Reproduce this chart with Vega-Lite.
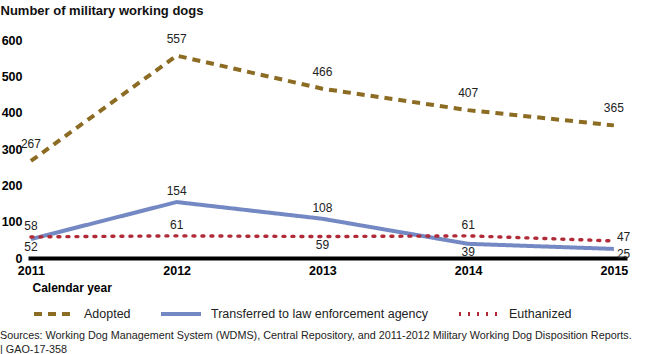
{
  "$schema": "https://vega.github.io/schema/vega-lite/v6.json",
  "width": 599,
  "height": 218,
  "autosize": {"type": "none"},
  "padding": {"left": 28, "top": 40, "right": 23, "bottom": 96},
  "config": {
    "font": "Liberation Sans",
    "view": {"stroke": null},
    "axis": {"grid": false, "ticks": false}
  },
  "title": {
    "text": ["Sources: Working Dog Management System (WDMS), Central Repository, and 2011-2012 Military Working Dog Disposition Reports.", "|  GAO-17-358"],
    "orient": "bottom",
    "anchor": "start",
    "frame": "group",
    "dx": -28,
    "offset": 8,
    "fontSize": 10.8,
    "fontWeight": "normal",
    "color": "#222222",
    "lineHeight": 14
  },
  "data": {
    "values": [
      {"year": 2011, "series": "Adopted", "value": 267},
      {"year": 2012, "series": "Adopted", "value": 557},
      {"year": 2013, "series": "Adopted", "value": 466},
      {"year": 2014, "series": "Adopted", "value": 407},
      {"year": 2015, "series": "Adopted", "value": 365},
      {"year": 2011, "series": "Transferred to law enforcement agency", "value": 52},
      {"year": 2012, "series": "Transferred to law enforcement agency", "value": 154},
      {"year": 2013, "series": "Transferred to law enforcement agency", "value": 108},
      {"year": 2014, "series": "Transferred to law enforcement agency", "value": 39},
      {"year": 2015, "series": "Transferred to law enforcement agency", "value": 25},
      {"year": 2011, "series": "Euthanized", "value": 58},
      {"year": 2012, "series": "Euthanized", "value": 61},
      {"year": 2013, "series": "Euthanized", "value": 59},
      {"year": 2014, "series": "Euthanized", "value": 61},
      {"year": 2015, "series": "Euthanized", "value": 47}
    ]
  },
  "encoding": {
    "x": {
      "field": "year", "type": "quantitative",
      "scale": {"domain": [2010.98, 2015.09], "nice": false, "zero": false},
      "axis": {
        "values": [2011, 2012, 2013, 2014, 2015],
        "format": "d",
        "domainColor": "#000000",
        "domainWidth": 4,
        "labelFontSize": 12.5,
        "labelFontWeight": "bold",
        "labelColor": "#000000",
        "labelPadding": 6,
        "labelFlush": false,
        "title": "Calendar year",
        "titleFontSize": 12,
        "titleFontWeight": "bold",
        "titleColor": "#000000",
        "titleAnchor": "start",
        "titleAlign": "left",
        "titleBaseline": "middle",
        "titleX": 4,
        "titleY": 29
      }
    },
    "y": {
      "field": "value", "type": "quantitative",
      "scale": {"domain": [0, 600], "nice": false},
      "axis": {
        "values": [0, 100, 200, 300, 400, 500, 600],
        "domain": false,
        "labelFontSize": 12.5,
        "labelFontWeight": "bold",
        "labelColor": "#000000",
        "labelPadding": 6,
        "labelFlush": false,
        "title": "Number of military working dogs",
        "titleAngle": 0,
        "titleAlign": "left",
        "titleBaseline": "middle",
        "titleX": -28,
        "titleY": -30,
        "titleFontSize": 13,
        "titleFontWeight": "bold",
        "titleColor": "#111111"
      }
    }
  },
  "layer": [
    {
      "transform": [{"filter": "datum.series == 'Adopted'"}],
      "mark": {"type": "line", "strokeWidth": 4, "strokeCap": "butt"},
      "encoding": {
        "color": {"field": "series", "type": "nominal", "title": null,
          "scale": {"domain": ["Adopted", "Transferred to law enforcement agency", "Euthanized"], "range": ["#8C6B22", "#7489C3", "#B02A37"]},
          "legend": {
            "orient": "none", "legendX": 4, "legendY": 252, "direction": "horizontal",
            "symbolType": "stroke", "symbolSize": 1600, "symbolStrokeWidth": 4,
            "labelFontSize": 12.5, "labelColor": "#222222", "labelOffset": 8,
            "labelLimit": 400, "columnPadding": 22
          }
        },
        "strokeDash": {"field": "series", "type": "nominal", "title": null,
          "scale": {"domain": ["Adopted", "Transferred to law enforcement agency", "Euthanized"], "range": [[8, 6], [1, 0], [2, 7]]}
        }
      }
    },
    {
      "transform": [{"filter": "datum.series == 'Transferred to law enforcement agency'"}],
      "mark": {"type": "line", "strokeWidth": 4},
      "encoding": {
        "color": {"field": "series", "type": "nominal"},
        "strokeDash": {"field": "series", "type": "nominal"}
      }
    },
    {
      "transform": [{"filter": "datum.series == 'Euthanized'"}],
      "mark": {"type": "line", "strokeWidth": 3.4, "strokeCap": "round"},
      "encoding": {
        "color": {"field": "series", "type": "nominal"},
        "strokeDash": {"field": "series", "type": "nominal", "scale": {"domain": ["Adopted", "Transferred to law enforcement agency", "Euthanized"], "range": [[8, 6], [1, 0], [0.1, 8.9]]}}
      }
    },
    {
      "transform": [{"filter": "datum.series == 'Adopted'"}],
      "mark": {"type": "text", "baseline": "bottom", "dy": -10, "fontSize": 12, "color": "#222222"},
      "encoding": {"text": {"field": "value", "type": "quantitative"}}
    },
    {
      "transform": [{"filter": "(datum.series == 'Transferred to law enforcement agency' && (datum.year == 2012 || datum.year == 2013)) || (datum.series == 'Euthanized' && (datum.year == 2011 || datum.year == 2012 || datum.year == 2014))"}],
      "mark": {"type": "text", "baseline": "bottom", "dy": -4, "fontSize": 12, "color": "#222222"},
      "encoding": {"text": {"field": "value", "type": "quantitative"}}
    },
    {
      "transform": [{"filter": "(datum.series == 'Transferred to law enforcement agency' && (datum.year == 2011 || datum.year == 2014)) || (datum.series == 'Euthanized' && datum.year == 2013)"}],
      "mark": {"type": "text", "baseline": "top", "dy": 3, "fontSize": 12, "color": "#222222"},
      "encoding": {"text": {"field": "value", "type": "quantitative"}}
    },
    {
      "transform": [{"filter": "datum.year == 2015 && datum.series == 'Euthanized'"}],
      "mark": {"type": "text", "align": "left", "baseline": "middle", "dx": 3, "dy": -4, "fontSize": 12, "color": "#222222"},
      "encoding": {"text": {"field": "value", "type": "quantitative"}}
    },
    {
      "transform": [{"filter": "datum.year == 2015 && datum.series == 'Transferred to law enforcement agency'"}],
      "mark": {"type": "text", "align": "left", "baseline": "middle", "dx": 3, "dy": 5, "fontSize": 12, "color": "#222222"},
      "encoding": {"text": {"field": "value", "type": "quantitative"}}
    }
  ]
}
